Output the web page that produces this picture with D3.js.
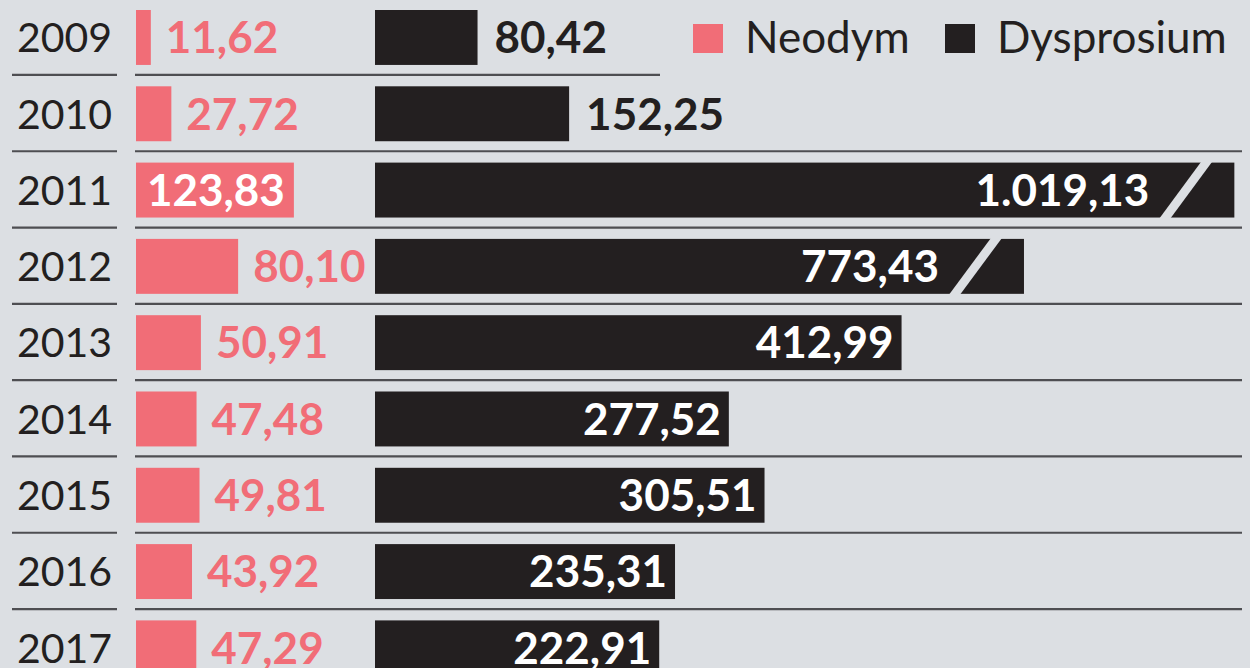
<!DOCTYPE html>
<html>
<head>
<meta charset="utf-8">
<script src="https://cdn.jsdelivr.net/npm/d3@7"></script>
<style>
  body { margin: 0; background: #dcdfe3; }
  svg { display: block; font-family: Lato, "Noto Sans", sans-serif; }
</style>
</head>
<body>
<div id="chart"></div>
<script>
// data
const years = ["2009", "2010", "2011", "2012", "2013", "2014", "2015", "2016", "2017"];
const neodym = [11.62, 27.72, 123.83, 80.10, 50.91, 47.48, 49.81, 43.92, 47.29];
const dysprosium = [80.42, 152.25, 1019.13, 773.43, 412.99, 277.52, 305.51, 235.31, 222.91];
// bars that are cut with a break mark: value shown up to this length
const dyShown = [null, null, 674, 509, null, null, null, null, null];
const seriesNames = ["Neodym", "Dysprosium"];

const pink = "#f16d77";
const dark = "#231f20";
const bg = "#dcdfe3";

const W = 1250, H = 668;

const svg = d3.select("#chart").append("svg")
    .attr("width", W)
    .attr("height", H);

svg.append("rect").attr("width", W).attr("height", H).attr("fill", bg);

// rows
const y = d3.scaleBand()
    .domain(years)
    .range([10, 10 + 76.3 * 8.72])
    .paddingInner(0.28)
    .paddingOuter(0);

// same px per unit for both series, different origins
const xN = d3.scaleLinear().domain([0, 100]).range([136, 136 + 127.5]);
const xD = d3.scaleLinear().domain([0, 100]).range([375, 375 + 127.5]);

const fmt = v => {
    let s = d3.format(",.2f")(v);
    return s.replace(/,/g, "#").replace(".", ",").replace(/#/g, ".");
};

const rows = years.map((yr, i) => ({
    year: yr, n: neodym[i], d: dysprosium[i], shown: dyShown[i]
}));

// separator lines under each row
const sep = svg.append("g").attr("stroke", "#4e4e52").attr("stroke-width", 2.2);
rows.forEach((r, i) => {
    const ly = y(r.year) + y.bandwidth() + 10;
    sep.append("line").attr("x1", 12).attr("x2", 117).attr("y1", ly).attr("y2", ly);
    sep.append("line").attr("x1", 135).attr("x2", i === 0 ? 660 : 1242).attr("y1", ly).attr("y2", ly);
});

const g = svg.selectAll(".row").data(rows).enter().append("g")
    .attr("class", "row")
    .attr("transform", d => "translate(0," + y(d.year) + ")");

const bh = y.bandwidth();
const fs = 41;   // year labels
const fsb = 44;  // value labels
const fsl = 44;  // legend

// year label
g.append("text")
    .attr("x", 17)
    .attr("y", bh / 2)
    .attr("dy", "0.36em")
    .attr("fill", dark)
    .attr("font-size", fs)
    .text(d => d.year);

// Neodym bars
g.append("rect")
    .attr("x", xN(0))
    .attr("y", 0)
    .attr("width", d => xN(d.n) - xN(0))
    .attr("height", bh)
    .attr("fill", pink);

// Neodym labels: inside (white) when the bar is wide enough
const nIn = d => xN(d.n) - xN(0) > 150;
g.append("text")
    .attr("x", d => nIn(d) ? xN(d.n) - 9 : xN(d.n) + 15)
    .attr("text-anchor", d => nIn(d) ? "end" : "start")
    .attr("y", bh / 2)
    .attr("dy", "0.36em")
    .attr("font-size", fsb)
    .attr("font-weight", 700)
    .attr("fill", d => nIn(d) ? "#fff" : pink)
    .text(d => fmt(d.n));

// Dysprosium bars
const dEnd = d => xD(d.shown != null ? d.shown : d.d);

g.append("rect")
    .attr("x", xD(0))
    .attr("y", 0)
    .attr("width", d => dEnd(d) - xD(0))
    .attr("height", bh)
    .attr("fill", dark);

// break mark on cut bars
g.filter(d => d.shown != null).append("polygon")
    .attr("fill", bg)
    .attr("points", d => {
        const e = dEnd(d);
        return [[e - 33, -1], [e - 22, -1], [e - 64, bh + 1], [e - 75, bh + 1]]
            .map(p => p.join(",")).join(" ");
    });

const inside = d => dEnd(d) - xD(0) > 220;

g.append("text")
    .attr("x", d => {
        if (!inside(d)) return dEnd(d) + 17;
        return d.shown != null ? dEnd(d) - 85 : dEnd(d) - 8;
    })
    .attr("text-anchor", d => inside(d) ? "end" : "start")
    .attr("y", bh / 2)
    .attr("dy", "0.36em")
    .attr("font-size", fsb)
    .attr("font-weight", 700)
    .attr("fill", d => inside(d) ? "#fff" : dark)
    .text(d => fmt(d.d));

// legend
const legend = svg.append("g").attr("transform", "translate(693," + y(years[0]) + ")");
const lx = [0, 252];
const lc = [pink, dark];
seriesNames.forEach((name, i) => {
    legend.append("rect")
        .attr("x", lx[i]).attr("y", 14)
        .attr("width", 30).attr("height", 29)
        .attr("fill", lc[i]);
    legend.append("text")
        .attr("x", lx[i] + 52)
        .attr("y", bh / 2)
        .attr("dy", "0.36em")
        .attr("font-size", fsl)
        .attr("fill", dark)
        .text(name);
});
</script>
</body>
</html>
